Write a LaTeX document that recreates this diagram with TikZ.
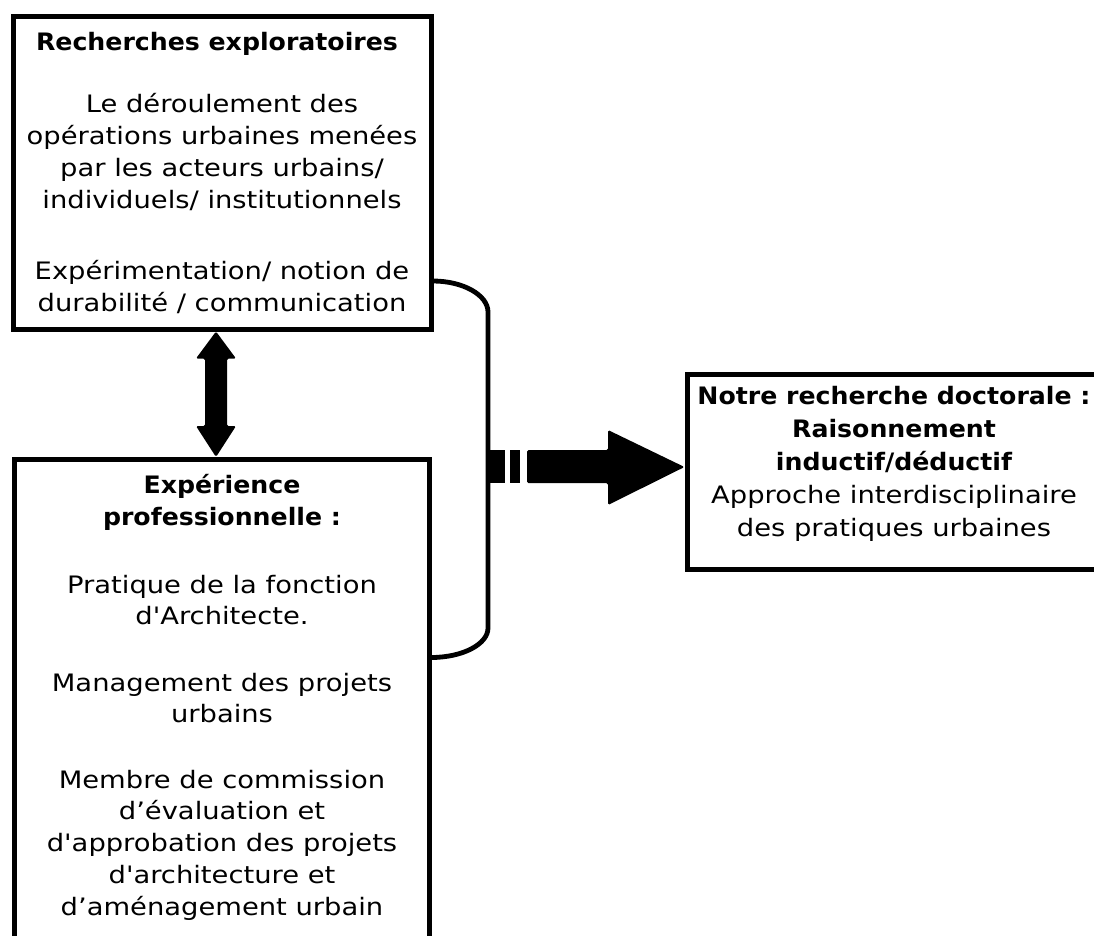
\documentclass[tikz,border=0pt]{standalone}
\usepackage{fontspec}
\setmainfont{DejaVu Sans}[Ligatures=TeXOff, FakeStretch=1.14]
\newfontfamily\titlefont{DejaVu Sans}[Ligatures=TeXOff, FakeStretch=1.05]
\usetikzlibrary{calc}
\begin{document}
\begin{tikzpicture}[x=1pt,y=-1pt,
  box/.style={draw=black, line width=5pt, rectangle, inner sep=0pt},
  txt/.style={align=center, inner sep=0pt, font=\fontsize{24}{31.8}\selectfont},
  ttl/.style={align=center, inner sep=0pt, font=\titlefont\bfseries\fontsize{24}{31.8}\selectfont},
  link/.style={draw=black, line width=4.8pt},
  bigarrow/.style={fill=black, rounded corners=1.5pt}]
\useasboundingbox (0,0) rectangle (1094,935);
\fill[white] (0,0) rectangle (1094,935);

% boxes
\node[box, minimum width=418pt, minimum height=313pt] (explo) at (222.5,172.5) {};
\node[box, minimum width=415pt, minimum height=491pt] (expe) at (222,705) {};
\node[box, minimum width=414pt, minimum height=195pt] (these) at (894,472) {};

% texts of the top box
\node[ttl] (t1) at (217,43.5) {Recherches exploratoires};
\node[txt] (t2) at (222,152) {Le déroulement des\\opérations urbaines menées\\par les acteurs urbains/\\individuels/ institutionnels};
\node[txt] (t3) at (222,287) {Expérimentation/ notion de\\durabilité / communication};

% texts of the bottom box
\node[ttl] (e1) at (222,502) {Expérience\\professionnelle :};
\node[txt] (e2) at (222,600) {Pratique de la fonction\\d'Architecte.};
\node[txt] (e3) at (222,698) {Management des projets\\urbains};
\node[txt] (e4) at (222,845) {Membre de commission\\d’évaluation et\\d'approbation des projets\\d'architecture et\\d’aménagement urbain};

% text of the right box
\node[txt, font=\fontsize{24}{33}\selectfont] (r1) at (894,464)
  {{\titlefont\bfseries Notre recherche doctorale :}\\{\titlefont\bfseries Raisonnement}\\{\titlefont\bfseries inductif/déductif}\\Approche interdisciplinaire\\des pratiques urbaines};

% double arrow between the two left boxes
\coordinate (da1) at ($(explo.south)+(-6.5,0)$);
\coordinate (da2) at ($(expe.north)+(-6,0)$);
\fill[bigarrow] (da1) -- ($(da1)+(20,27)$) -- ($(da1)+(11,27)$) -- ($(da2)+(11,-31)$) -- ($(da2)+(20,-31)$)
  -- (da2) -- ($(da2)+(-20,-31)$) -- ($(da2)+(-11,-31)$) -- ($(da1)+(-11,27)$) -- ($(da1)+(-20,27)$) -- cycle;

% bracket joining both boxes
\coordinate (bk1) at ($(explo.north east)+(-1,267.5)$);
\coordinate (bk2) at ($(expe.north east)+(-1,200.5)$);
\draw[link] (bk1) .. controls (463,281) and (488,295) .. (488,312) -- (488,628)
  .. controls (488,644) and (463,657.5) .. (bk2);

% dashed thick arrow to the right box
\coordinate (tip) at ($(these.west)+(0,-5)$);
\fill[black] (490,450) rectangle (505,483);
\fill[black] (510,450) rectangle (520,483);
\fill[bigarrow] (527,450) -- (608,450) -- (608,430) -- (tip) -- (608,505) -- (608,483) -- (527,483) -- cycle;
\end{tikzpicture}
\end{document}
